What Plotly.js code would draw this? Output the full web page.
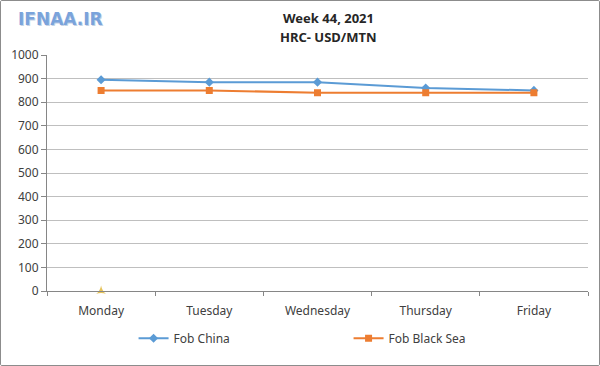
<!DOCTYPE html>
<html>
<head>
<meta charset="utf-8">
<script src="https://cdn.plot.ly/plotly-3.0.1.min.js"></script>
<style>
html,body{margin:0;padding:0;background:#fff;}
#wrap{width:598px;height:364px;border:1px solid #8c8c8c;border-radius:2px;overflow:hidden;}
#chart{width:598px;height:364px;}
</style>
</head>
<body>
<div id="wrap"><div id="chart"></div></div>
<script>
const days = ["Monday", "Tuesday", "Wednesday", "Thursday", "Friday"];
const fobChina = [895, 885, 885, 860, 850];
const fobBlackSea = [850, 850, 840, 840, 840];
const hiddenDays = ["Monday"];
const hiddenValues = [0];
const yTicks = [0, 100, 200, 300, 400, 500, 600, 700, 800, 900, 1000];

const font = "Noto Sans, Open Sans, sans-serif";

const traces = [
  {
    x: days, y: fobChina, name: "Fob China", type: "scatter", mode: "lines+markers",
    line: {color: "#5B9BD5", width: 2},
    marker: {symbol: "diamond", size: 7, color: "#5B9BD5"}
  },
  {
    x: days, y: fobBlackSea, name: "Fob Black Sea", type: "scatter", mode: "lines+markers",
    line: {color: "#ED7D31", width: 2},
    marker: {symbol: "square", size: 7, color: "#ED7D31"}
  },
  {
    x: hiddenDays, y: hiddenValues, name: "", type: "scatter", mode: "markers",
    showlegend: false, cliponaxis: false,
    marker: {symbol: "star-triangle-up", size: 7, color: "#E6C35A"}
  }
];

const layout = {
  width: 598, height: 364,
  margin: {l: 46, r: 11, t: 54, b: 74, autoexpand: false},
  paper_bgcolor: "#ffffff", plot_bgcolor: "#ffffff",
  font: {family: font, size: 12, color: "#404040"},
  showlegend: true,
  legend: {
    orientation: "h", x: 0.16, xanchor: "left", y: -0.2, yanchor: "middle",
    font: {family: font, size: 12, color: "#404040"},
    entrywidth: 170, entrywidthmode: "pixels", itemwidth: 30
  },
  xaxis: {
    type: "category", range: [-0.5, 4.5], tickson: "boundaries", ticks: "outside", ticklen: 4, tickcolor: "#868686",
    showline: true, linecolor: "#868686", linewidth: 1, showgrid: false, ticklabelstandoff: 9,
    tickfont: {family: font, size: 12, color: "#404040"}, fixedrange: true
  },
  yaxis: {
    range: [0, 1000], tickvals: yTicks, ticks: "outside", ticklen: 5, tickcolor: "#868686",
    showline: true, linecolor: "#868686", linewidth: 1,
    showgrid: true, gridcolor: "#BFBFBF", gridwidth: 1, zeroline: false,
    tickfont: {family: font, size: 12, color: "#404040"}, fixedrange: true
  },
  annotations: [
    {text: "<b>Week 44, 2021</b>", xref: "paper", yref: "paper", x: 0.52, y: 1 + 37/236, xanchor: "center", yanchor: "middle", showarrow: false, font: {family: font, size: 13, color: "#262626"}},
    {text: "<b>HRC- USD/MTN</b>", xref: "paper", yref: "paper", x: 0.52, y: 1 + 18/236, xanchor: "center", yanchor: "middle", showarrow: false, font: {family: font, size: 13, color: "#262626"}},
    {text: "<b>IFNAA.IR</b>", xref: "paper", yref: "paper", x: -0.055, y: 1 + 35/236, xanchor: "left", yanchor: "middle", showarrow: false, font: {family: "DejaVu Sans, sans-serif", size: 17, color: "#c5d3e6"}},
    {text: "<b>IFNAA.IR</b>", xref: "paper", yref: "paper", x: -0.0575, y: 1 + 36/236, xanchor: "left", yanchor: "middle", showarrow: false, font: {family: "DejaVu Sans, sans-serif", size: 17, color: "#7aa3db"}}
  ]
};

Plotly.newPlot("chart", traces, layout, {displayModeBar: false, staticPlot: true});
</script>
</body>
</html>
